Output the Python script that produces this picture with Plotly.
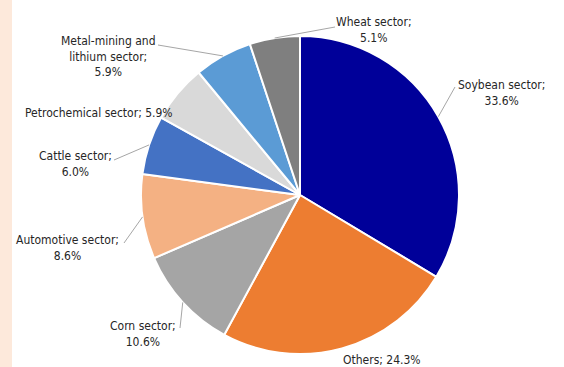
import math
import plotly.graph_objects as go

labels = ["Soybean sector", "Others", "Corn sector", "Automotive sector",
          "Cattle sector", "Petrochemical sector", "Metal-mining and lithium sector", "Wheat sector"]
values = [33.6, 24.3, 10.6, 8.6, 6.0, 5.9, 5.9, 5.1]
label_texts = ["Soybean sector;<br>33.6%", "Others; 24.3%", "Corn sector;<br>10.6%",
               "Automotive sector;<br>8.6%", "Cattle sector;<br>6.0%",
               "Petrochemical sector; 5.9%", "Metal-mining and<br>lithium sector;<br>5.9%",
               "Wheat sector;<br>5.1%"]
colors = ["#000099", "#ED7D31", "#A5A5A5", "#F4B183", "#4472C4", "#D9D9D9", "#5B9BD5", "#7F7F7F"]

W, H = 564, 367
CX, CY, R = 300, 195, 159

# label text centres (pixels) and leader-line elbows (None = no leader)
label_pos = [(501, 93), (382, 360), (143, 334), (67, 248), (75, 164), (99, 113), (108, 57), (374, 30)]
leader_end = [(455, 87), None, (180, 328), (124, 243), (114, 160), None, (158, 45), (335, 27)]

def px(x):
    return x / W

def py(y):
    return 1 - y / H

fig = go.Figure(go.Pie(
    labels=labels, values=values, sort=False, direction="clockwise", rotation=0,
    marker=dict(colors=colors, line=dict(color="white", width=2)),
    textinfo="none", hoverinfo="label+percent", showlegend=False,
    domain=dict(x=[px(CX - R), px(CX + R)], y=[py(CY + R), py(CY - R)]),
))

shapes = [dict(type="rect", xref="paper", yref="paper", x0=0, x1=px(12), y0=0, y1=1,
               fillcolor="#FDE9DB", line=dict(width=0), layer="below")]
annotations = []
total = sum(values)
cum = 0
for i, v in enumerate(values):
    mid = (cum + v / 2) / total * 2 * math.pi
    cum += v
    sx = CX + R * math.sin(mid)
    sy = CY - R * math.cos(mid)
    if leader_end[i] is not None:
        ex, ey = leader_end[i]
        shapes.append(dict(type="line", xref="paper", yref="paper",
                           x0=px(sx), y0=py(sy), x1=px(ex), y1=py(ey),
                           line=dict(color="#A6A6A6", width=1)))
    lx, ly = label_pos[i]
    annotations.append(dict(text=label_texts[i], x=px(lx), y=py(ly), xref="paper", yref="paper",
                            showarrow=False, align="center", xanchor="center", yanchor="middle",
                            font=dict(size=12, color="#262626", family="DejaVu Sans Condensed, Liberation Sans, sans-serif")))

fig.update_layout(width=W, height=H, margin=dict(l=0, r=0, t=0, b=0),
                  paper_bgcolor="white", plot_bgcolor="white",
                  shapes=shapes, annotations=annotations)
fig.write_html("out.html")
